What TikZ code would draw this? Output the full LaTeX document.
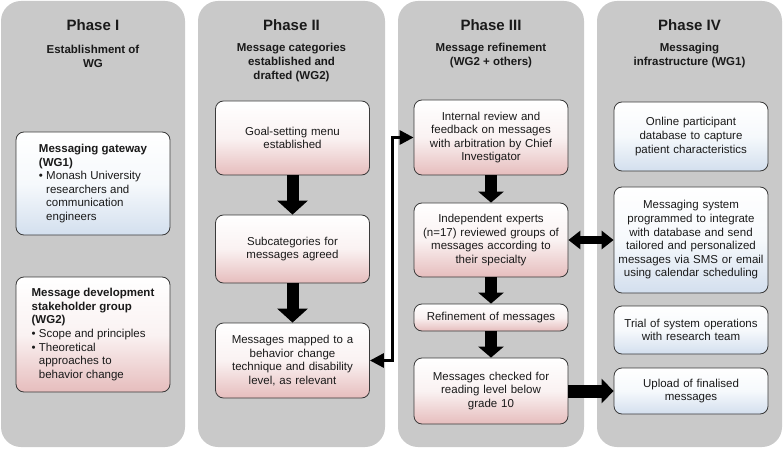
\documentclass[tikz,border=0pt]{standalone}
\usepackage{fontspec}
\setmainfont{Liberation Sans}
\usepackage[HTML]{xcolor}
\usetikzlibrary{positioning, arrows.meta}
\definecolor{panelgray}{HTML}{C9C9C9}
\definecolor{boxpink}{HTML}{E6BDBD}
\definecolor{boxblue}{HTML}{D3DFEE}
\definecolor{boxline}{HTML}{3A3A3A}
\definecolor{inktext}{HTML}{1A1A1A}
\newcommand{\bulind}{\phantom{\textbullet\ }}

\begin{document}
\begin{tikzpicture}[x=1pt, y=-1pt,
  panel/.style={fill=panelgray, rounded corners=20pt},
  phase/.style={text=inktext, font=\fontsize{15}{18}\selectfont\bfseries},
  phasesub/.style={text=inktext, align=center, font=\fontsize{11.5}{14}\selectfont\bfseries},
  msgbox/.style={draw=boxline, text=inktext, line width=0.8pt, rounded corners=8pt, inner sep=2pt, minimum width=154pt, font=\fontsize{11.5}{13.6}\selectfont},
  midtext/.style={text width=150pt, align=center},
  pinkbox/.style={msgbox, top color=white, bottom color=boxpink, middle color=boxpink!20},
  bluebox/.style={msgbox, top color=white, bottom color=boxblue, middle color=boxblue!20},
  fatdown/.style={line width=12pt, -{Triangle[length=14pt, width=30pt]}},
  fatdownb/.style={line width=12pt, -{Triangle[length=11pt, width=25pt]}},
  link/.style={line width=3pt, {Triangle[length=14pt, width=14pt]}-{Triangle[length=14pt, width=14pt]}}]
\useasboundingbox (0,0) rectangle (784,449);
\fill[panel] (1,1) rectangle (185,447);
\fill[panel] (198,1) rectangle (385,447);
\fill[panel] (398,1) rectangle (584,447);
\fill[panel] (597,1) rectangle (782,447);

\node[phase] (ph1) at (93,25) {Phase I};
\node[phase] (ph2) at (291.5,25) {Phase II};
\node[phase] (ph3) at (491,25) {Phase III};
\node[phase] (ph4) at (689.5,25) {Phase IV};
\node[phasesub] (sub1) at (93,56) {Establishment of\\WG};
\node[phasesub] (sub2) at (291.5,63) {Message categories\\established and\\drafted (WG2)};
\node[phasesub] (sub3) at (491,56) {Message refinement\\(WG2 + others)};
\node[phasesub] (sub4) at (689.5,56) {Messaging\\infrastructure (WG1)};

\node[bluebox, align=left, minimum height=103pt] (gw) at (93,183.5) {\textbf{Messaging gateway}\\\textbf{(WG1)}\\\textbullet\ Monash University\\\bulind researchers and\\\bulind communication\\\bulind engineers};
\node[pinkbox, align=left, minimum height=115pt] (dev) at (93,334.5) {\textbf{Message development}\\\textbf{stakeholder group}\\\textbf{(WG2)}\\\textbullet\ Scope and principles\\\textbullet\ Theoretical\\\bulind approaches to\\\bulind behavior change};

\node[pinkbox, midtext, minimum height=74pt] (goal) at (292.5,138) {Goal-setting menu\\established};
\node[pinkbox, midtext, minimum height=68pt] (subcat) at (292.5,249) {Subcategories for\\messages agreed};
\node[pinkbox, midtext, minimum height=75pt] (mapped) at (292.5,360.5) {Messages mapped to a\\behavior change\\technique and disability\\level, as relevant};

\node[pinkbox, midtext, minimum height=75pt] (rev) at (491,137.5) {Internal review and\\feedback on messages\\with arbitration by Chief\\Investigator};
\node[pinkbox, midtext, minimum height=74pt] (indep) at (491,240) {Independent experts\\(n=17) reviewed groups of\\messages according to\\their specialty};
\node[pinkbox, midtext, minimum height=27pt] (refine) at (491,317.5) {Refinement of messages};
\node[pinkbox, midtext, minimum height=66pt] (check) at (491,391) {Messages checked for\\reading level below\\grade 10};

\node[bluebox, midtext, minimum height=69pt] (db) at (691,136.5) {Online participant\\database to capture\\patient characteristics};
\node[bluebox, midtext, minimum height=106pt] (sys) at (691,240) {Messaging system\\programmed to integrate\\with database and send\\tailored and personalized\\messages via SMS or email\\using calendar scheduling};
\node[bluebox, midtext, minimum height=48pt] (trial) at (691,330) {Trial of system operations\\with research team};
\node[bluebox, midtext, minimum height=46pt] (upload) at (691,391) {Upload of finalised\\messages};

\draw[fatdown] (goal) -- (subcat);
\draw[fatdown] (subcat) -- (mapped);
\draw[fatdownb] (rev) -- (indep);
\draw[fatdownb] (indep) -- (refine);
\draw[fatdownb] (refine) -- (check);
\draw[line width=8pt, {Triangle[length=12pt, width=18pt]}-{Triangle[length=12pt, width=18pt]}] (indep) -- (sys);
\draw[line width=13pt, -{Triangle[length=12pt, width=24pt]}] (check) -- (upload);
\draw[link] (mapped.east) -- ++(23,0) |- (rev.west);
\end{tikzpicture}
\end{document}
